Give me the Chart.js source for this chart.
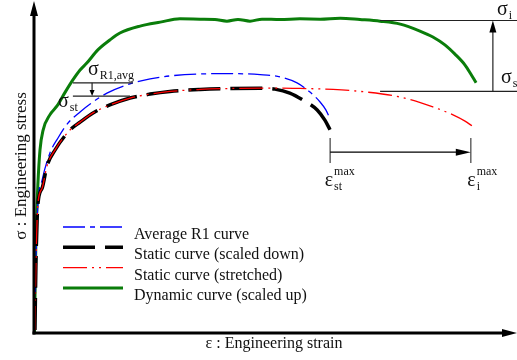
<!DOCTYPE html>
<html>
<head>
<meta charset="utf-8">
<script src="https://cdn.jsdelivr.net/npm/chart.js@4"></script>
<style>
  html, body { margin: 0; padding: 0; background: #fff; }
  #wrap { width: 517px; height: 360px; }
</style>
</head>
<body>
<div id="wrap"><canvas id="chart"></canvas></div>
<script>
// strain (x) / stress (y) in arbitrary units 0-100
const avgStrain = [0.2, 0.4, 0.8, 1.7, 3.3, 5.0, 6.9, 9.6, 11.7, 15.2, 20.0, 24.2, 28.3, 34.6, 40.8, 47.1, 51.3, 54.8, 57.5, 59.6, 60.8, 61.7];
const avgStress = [0.9, 22.1, 38.8, 46.4, 54.5, 59.1, 63.3, 67.0, 69.4, 72.7, 75.5, 77.0, 77.9, 78.5, 78.6, 78.3, 77.6, 75.8, 73.0, 70.0, 67.6, 64.8];

const staticStrain = [0.2, 0.4, 0.8, 1.7, 2.7, 4.4, 7.5, 9.6, 12.3, 15.8, 20.0, 24.2, 28.3, 34.6, 40.8, 47.1, 50.2, 53.3, 56.0, 59.0, 60.6, 61.7];
const staticStress = [0.9, 20.6, 38.8, 43.9, 50.6, 55.5, 61.5, 63.9, 66.7, 69.1, 71.2, 72.4, 73.2, 73.8, 74.1, 74.2, 73.9, 72.7, 70.6, 67.6, 64.5, 61.5];

const stretchStrain = [0.2, 0.4, 0.8, 1.7, 2.7, 4.4, 7.5, 9.6, 12.3, 15.8, 20.0, 24.2, 28.3, 34.6, 40.8, 47.1, 51.3, 55.4, 62.3, 69.4, 76.3, 83.1, 87.3, 89.8, 91.3];
const stretchStress = [0.9, 20.6, 38.8, 43.9, 50.6, 55.5, 61.5, 63.9, 66.7, 69.1, 71.2, 72.4, 73.2, 73.8, 74.1, 74.2, 74.2, 74.1, 73.8, 73.0, 71.5, 68.5, 66.1, 64.2, 62.7];

const dynStrain = [0.1, 0.2, 0.3, 0.4, 0.6, 0.8, 1.25, 1.9, 3.3, 4.8, 6.5, 8.1, 9.6, 11.0, 13.3, 15.8, 17.9, 22.1, 26.3, 30.4, 34.6, 37.7, 40.2, 42.5, 45.0, 47.5, 51.3, 55.4, 59.6, 63.8, 67.9, 72.1, 76.3, 80.4, 83.1, 85.6, 87.7, 89.8, 91.0, 92.1];
const dynStress = [0, 10, 19.1, 28.2, 37.3, 44.8, 55.5, 61.5, 66.1, 68.8, 73.0, 76.7, 79.7, 81.8, 85.8, 88.8, 90.9, 93.0, 94.2, 95.2, 95.1, 95.0, 94.5, 95.0, 94.5, 95.1, 95.0, 95.2, 95.1, 95.4, 95.0, 94.5, 93.6, 91.5, 89.7, 87.3, 84.5, 81.2, 78.5, 75.8];

const seriesLabels = ['Average R1 curve', 'Static curve (scaled down)', 'Static curve (stretched)', 'Dynamic curve (scaled up)'];

// levels marked on the sketch
const sigmaI = 94.7, sigmaS = 73.2;
const sigmaR1avg = 75.8, sigmaSt = 71.8;
const epsStMax = 61.7, epsIMax = 91.0;

function toPoints(xs, ys) {
  return xs.map((x, i) => ({ x: x, y: ys[i] }));
}

const serif = '"Liberation Serif", "Times New Roman", serif';

function arrow(ctx, x1, y1, x2, y2, len, half) {
  const a = Math.atan2(y2 - y1, x2 - x1);
  ctx.beginPath();
  ctx.moveTo(x1, y1);
  ctx.lineTo(x2 - Math.cos(a) * len * 0.8, y2 - Math.sin(a) * len * 0.8);
  ctx.stroke();
  ctx.beginPath();
  ctx.moveTo(x2, y2);
  ctx.lineTo(x2 - Math.cos(a) * len - Math.sin(a) * half, y2 - Math.sin(a) * len + Math.cos(a) * half);
  ctx.lineTo(x2 - Math.cos(a) * len + Math.sin(a) * half, y2 - Math.sin(a) * len - Math.cos(a) * half);
  ctx.closePath();
  ctx.fill();
}

// greek letter with optional sub / sup, x,y = left and baseline
function symbol(ctx, x, y, main, sub, sup) {
  ctx.font = '20px ' + serif;
  ctx.textAlign = 'left';
  ctx.textBaseline = 'alphabetic';
  ctx.fillText(main, x, y);
  const w = ctx.measureText(main).width;
  ctx.font = '12px ' + serif;
  if (sub) ctx.fillText(sub, x + w + 1, y + 4);
  if (sup) ctx.fillText(sup, x + w + 1, y - 11);
}

const sketchPlugin = {
  id: 'sketch',
  afterDraw(chart) {
    const ctx = chart.ctx;
    const sx = chart.scales.x, sy = chart.scales.y;
    const px = v => sx.getPixelForValue(v);
    const py = v => sy.getPixelForValue(v);
    const W = chart.width;
    ctx.save();

    // axes with arrow heads
    ctx.strokeStyle = '#000';
    ctx.fillStyle = '#000';
    ctx.lineWidth = 3;
    ctx.beginPath();
    ctx.moveTo(px(0) - 1.5, py(0));
    ctx.lineTo(W - 12, py(0));
    ctx.stroke();
    ctx.beginPath();
    ctx.moveTo(px(0), py(0) + 1.5);
    ctx.lineTo(px(0), 14);
    ctx.stroke();
    ctx.beginPath();
    ctx.moveTo(W, py(0));
    ctx.lineTo(W - 15, py(0) - 4);
    ctx.lineTo(W - 15, py(0) + 4);
    ctx.closePath();
    ctx.fill();
    ctx.beginPath();
    ctx.moveTo(px(0), 1);
    ctx.lineTo(px(0) - 4, 16);
    ctx.lineTo(px(0) + 4, 16);
    ctx.closePath();
    ctx.fill();

    // axis titles
    ctx.fillStyle = '#111';
    ctx.font = '16px ' + serif;
    ctx.textAlign = 'center';
    ctx.textBaseline = 'alphabetic';
    ctx.fillText('ε : Engineering strain', 274, 348);
    ctx.save();
    ctx.translate(26, 166);
    ctx.rotate(-Math.PI / 2);
    ctx.font = '17px ' + serif;
    ctx.fillText('σ : Engineering stress', 0, 0);
    ctx.restore();

    // sigma_i / sigma_s levels and arrow
    ctx.strokeStyle = '#222';
    ctx.fillStyle = '#000';
    ctx.lineWidth = 1.2;
    ctx.beginPath();
    ctx.moveTo(px(72.1), py(sigmaI));
    ctx.lineTo(W, py(sigmaI));
    ctx.moveTo(px(72.1), py(sigmaS));
    ctx.lineTo(W, py(sigmaS));
    ctx.stroke();
    arrow(ctx, px(95.6), py(sigmaS), px(95.6), py(sigmaI), 12, 3.5);

    // sigma_R1,avg / sigma_st marks
    ctx.beginPath();
    ctx.moveTo(px(8.1), py(sigmaR1avg));
    ctx.lineTo(px(20.6), py(sigmaR1avg));
    ctx.moveTo(px(8.1), py(sigmaSt));
    ctx.lineTo(px(20.0), py(sigmaSt));
    ctx.stroke();
    arrow(ctx, px(12.1), py(sigmaR1avg), px(12.1), py(sigmaSt), 6, 2.5);

    // strain limits
    ctx.strokeStyle = '#666';
    ctx.lineWidth = 1.5;
    ctx.beginPath();
    ctx.moveTo(px(epsStMax), py(59.1));
    ctx.lineTo(px(epsStMax), py(51.5));
    ctx.moveTo(px(epsIMax), py(59.1));
    ctx.lineTo(px(epsIMax), py(51.5));
    ctx.stroke();
    ctx.strokeStyle = '#000';
    ctx.lineWidth = 1.2;
    arrow(ctx, px(epsStMax), py(54.8), px(epsIMax), py(54.8), 15, 3.5);

    // symbols
    ctx.fillStyle = '#111';
    symbol(ctx, 497, py(sigmaI) - 5.5, 'σ', 'i');
    symbol(ctx, 501, py(sigmaS) - 8, 'σ', 's');
    symbol(ctx, 88, py(sigmaR1avg) - 8, 'σ', 'R1,avg');
    symbol(ctx, 58, py(sigmaSt) + 11, 'σ', 'st');
    symbol(ctx, px(epsStMax) - 5.5, 186, 'ε', 'st', 'max');
    symbol(ctx, px(epsIMax) - 3.5, 186, 'ε', 'i', 'max');

    // legend
    chart.data.datasets.forEach((ds, i) => {
      const y = 227 + i * 20.3;
      ctx.strokeStyle = ds.borderColor;
      ctx.lineWidth = ds.borderWidth;
      ctx.setLineDash(ds.borderDash || []);
      ctx.beginPath();
      ctx.moveTo(63, y);
      ctx.lineTo(123, y);
      ctx.stroke();
      ctx.setLineDash([]);
      ctx.fillStyle = '#111';
      ctx.font = '16px ' + serif;
      ctx.textAlign = 'left';
      ctx.fillText(ds.label, 134, y + 12);
    });

    ctx.restore();
  }
};

new Chart(document.getElementById('chart'), {
  type: 'line',
  data: {
    datasets: [
      {
        label: seriesLabels[0],
        data: toPoints(avgStrain, avgStress),
        borderColor: '#0000ff',
        borderWidth: 1.3,
        borderDash: [22, 5, 5, 5],
        order: 2
      },
      {
        label: seriesLabels[1],
        data: toPoints(staticStrain, staticStress),
        borderColor: '#000000',
        borderWidth: 3.5,
        borderDash: [32, 10],
        order: 1
      },
      {
        label: seriesLabels[2],
        data: toPoints(stretchStrain, stretchStress),
        borderColor: '#ff0000',
        borderWidth: 1.3,
        borderDash: [24, 5, 2, 5, 2, 5],
        order: 0
      },
      {
        label: seriesLabels[3],
        data: toPoints(dynStrain, dynStress),
        borderColor: '#0a7d0a',
        borderWidth: 3,
        order: 3
      }
    ]
  },
  options: {
    responsive: true,
    maintainAspectRatio: false,
    animation: false,
    layout: { padding: { left: 34, right: 3, top: 3, bottom: 27 } },
    scales: {
      x: { type: 'linear', min: 0, max: 100, display: false },
      y: { min: 0, max: 100, display: false }
    },
    elements: {
      point: { radius: 0 },
      line: { cubicInterpolationMode: 'monotone', fill: false }
    },
    plugins: {
      legend: { display: false },
      tooltip: { enabled: false }
    }
  },
  plugins: [sketchPlugin]
});
</script>
</body>
</html>
